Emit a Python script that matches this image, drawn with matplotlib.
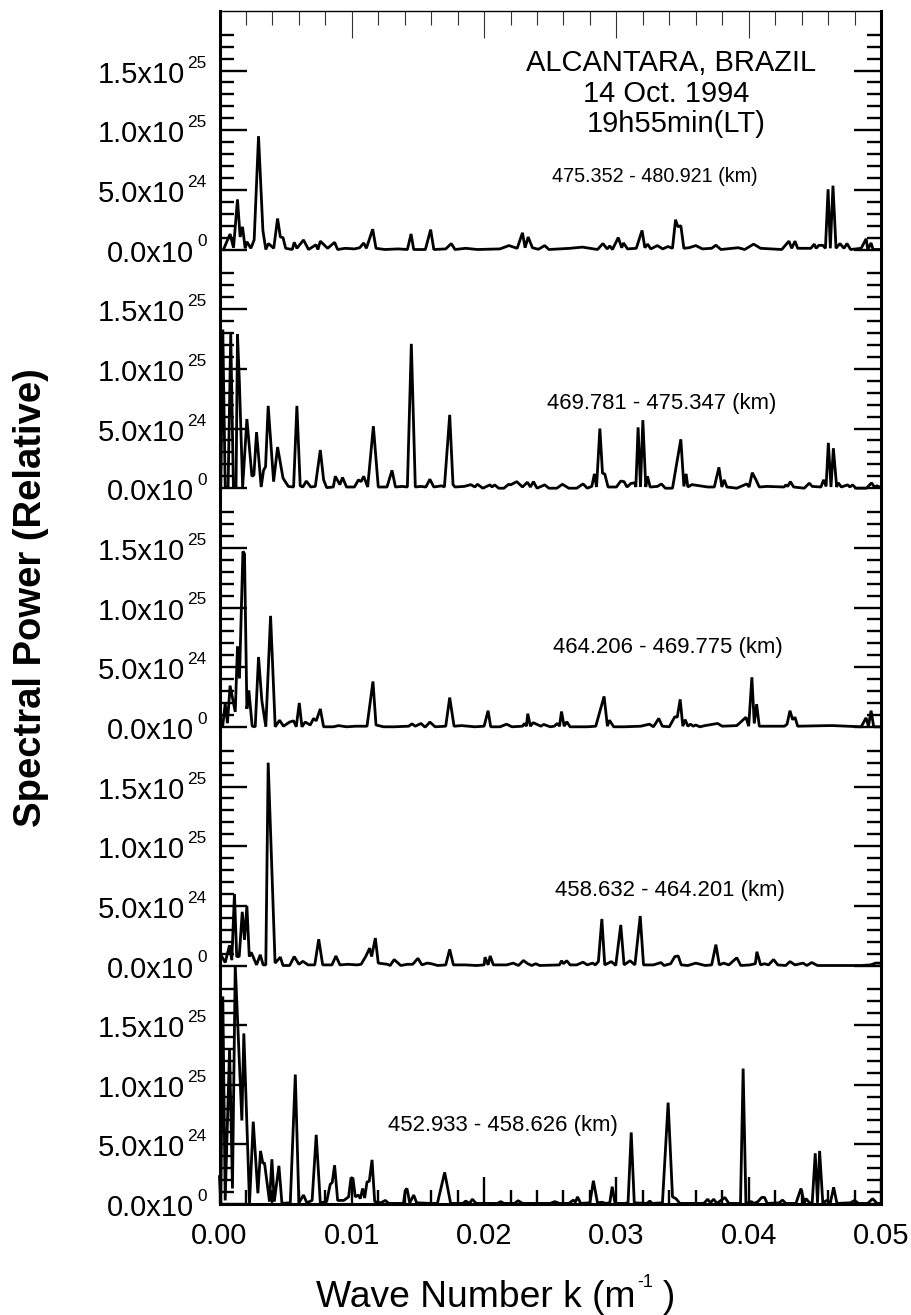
import numpy as np
import matplotlib
matplotlib.use("Agg")
import matplotlib.pyplot as plt

plt.rcParams['font.family'] = ['Liberation Sans', 'DejaVu Sans']

W, H = 911, 1315

# (wave number in 1/m, spectral power in units of 1e24)
panel1 = [(.0003,0),(.0008,1.3),(.00106,.15),(.00136,4.2),(.00156,1.05),(.00174,1.9),(.00194,.1),(.00207,.65),(.00237,.1),(.00262,.8),
 (.00295,9.5),(.00328,1.6),(.0035,0),(.0037,.5),(.0041,.1),(.00439,2.6),(.0046,1.05),(.0048,1.0),(.005,.1),(.0055,0),(.00565,.6),(.00585,.1),
 (.00635,.8),(.00673,0),(.00729,.4),(.00744,0),(.00762,.7),(.00817,.1),(.0087,.6),(.00893,0),(.0095,.1),(.0102,.05),(.0106,.15),(.0109,.55),(.0111,.1),
 (.01158,1.7),(.01183,.1),(.0125,0),(.0135,.05),(.0142,0),(.01448,1.3),(.01468,0),(.01556,0),(.01596,1.67),(.0162,0),(.0171,.05),(.01752,.5),(.0178,0),
 (.0186,.1),(.0195,0),(.0212,.05),(.02188,.33),(.0225,.1),(.0229,1.4),(.0231,.15),(.02333,1.05),(.02365,.15),(.0241,.02),(.02458,.33),(.0249,0),
 (.0265,.1),(.02743,.2),(.02857,0),(.02898,.5),(.0293,.05),(.0295,.3),(.0297,0),(.03014,1.0),(.0304,.15),(.03054,.55),(.03084,.05),(.0315,.1),
 (.03194,1.6),(.03215,.15),(.03236,.45),(.0326,.05),(.0331,.33),(.0335,.05),(.0339,.25),(.03424,.1),(.03447,2.5),(.03465,1.9),(.03487,2.0),(.0351,.1),
 (.0355,.15),(.036,.33),(.0365,.05),(.0372,.1),(.03752,.36),(.0379,0),(.0392,.15),(.0397,0),(.04037,.45),(.0409,.1),(.0425,0),(.04304,.7),(.04325,.1),
 (.0435,.7),(.0437,.1),(.0447,.1),(.04495,.45),(.0451,.1),(.0453,.35),(.0456,.35),(.0458,.1),(.046,5.05),(.04617,.1),(.04637,5.35),(.0466,.1),(.0469,.5),
 (.0472,.1),(.04743,.5),(.0477,0),(.0485,.1),(.04888,.9),(.049,0),(.04925,.55),(.0494,0),(.05,0)]

panel2 = [(.0001,0),(.00025,13.3),(.00043,.1),(.00065,.1),(.00085,13.0),(.00105,.1),(.00125,.1),(.00136,12.9),(.0015,9.0),(.00175,.1),
 (.00207,5.8),(.00245,1.0),(.0026,1.1),(.0028,4.7),(.00315,.1),(.00333,1.5),(.00348,1.8),(.00368,6.9),(.00409,.55),(.00439,3.45),(.0048,.85),(.0052,.15),(.0056,.1),
 (.00585,6.9),(.0061,.2),(.0063,.1),(.00656,.6),(.0069,.1),(.00724,.15),(.00762,3.2),(.00787,.7),(.0081,.05),(.0086,.1),(.00875,1.0),(.0091,.3),(.0093,.9),(.0096,.1),
 (.0102,.1),(.0105,.7),(.0107,.55),(.0109,1.0),(.0112,.1),(.01163,5.2),(.012,.1),(.01266,.1),(.01304,1.5),(.0133,.1),(.0138,.15),(.0142,.1),(.0145,12.1),(.0148,.1),
 (.0152,.15),(.0156,.1),(.0159,.75),(.0162,.1),(.0168,.2),(.017,.1),(.0174,6.15),(.01765,.3),(.0178,.1),(.0185,.15),(.019,.3),(.0193,.1),(.0195,.33),(.0199,0),
 (.02045,.28),(.0206,.1),(.0208,.28),(.0211,0),(.0215,0),(.02186,.33),(.022,.28),(.02247,.55),(.0229,.1),(.02327,.5),(.0235,.1),(.02373,.55),(.024,0),(.02458,.28),
 (.0249,0),(.0255,0),(.02592,.33),(.0264,0),(.027,0),(.02748,.36),(.0278,0),(.02814,.15),(.02834,1.2),(.0285,.1),(.02875,5.0),(.02895,1.25),(.02912,1.2),(.02937,.1),
 (.03,.1),(.03033,.6),(.03058,.55),(.0308,.1),(.0311,.4),(.0314,.45),(.03147,.1),(.03164,5.1),(.03182,.1),(.032,5.7),(.03222,.1),(.03235,1.0),(.03255,.1),(.0331,.15),
 (.0334,.36),(.0337,0),(.03424,0),(.03487,4.1),(.0351,.15),(.03527,1.2),(.0354,.1),(.0357,.3),(.0369,.1),(.0374,.1),(.03775,1.75),(.03797,.1),(.03815,.7),(.03835,.1),
 (.0391,0),(.03986,.36),(.04003,.1),(.04027,1.3),(.04055,.7),(.0408,.1),(.0414,.15),(.04268,.1),(.0428,.28),(.04295,.15),(.04315,.55),(.0434,.1),(.0442,0),(.04458,.42),
 (.0448,.15),(.04546,.1),(.04566,.7),(.04585,.15),(.04602,3.8),(.04622,.1),(.0464,3.35),(.04665,.1),(.04677,.45),(.047,.1),(.04748,.28),(.04765,.1),(.04785,.28),(.0481,0),
 (.0489,0),(.04929,.45),(.0495,.1),(.0497,.2),(.05,.05)]

panel3 = [(.00025,.15),(.00043,1.95),(.0006,.3),(.0008,3.45),(.00119,1.25),(.00136,6.75),(.00151,4.05),(.00177,14.7),(.00189,14.5),(.00207,1.5),(.00222,3.05),(.00247,.05),
 (.0027,0),(.00295,5.85),(.0032,2.2),(.0035,0),(.00386,9.3),(.00421,0),(.00454,.55),(.00484,.05),(.0053,.4),(.0056,.5),(.0058,0),(.00603,2.0),(.00623,0),(.00648,.4),(.00686,.15),
 (.00711,.7),(.00731,.5),(.00762,1.5),(.00787,0),(.0086,0),(.009,.1),(.0096,0),(.0103,.05),(.01115,.05),(.0116,3.8),(.01183,.15),(.0124,0),(.0132,0),(.0143,.05),(.01455,.25),(.0148,.05),
 (.01523,.28),(.0155,0),(.01558,0),(.0159,.4),(.0163,0),(.0171,.05),(.0174,2.45),(.01773,.05),(.0183,.1),(.0193,0),(.02,.05),(.0203,1.35),(.0205,0),(.0212,0),(.0217,.22),(.0221,0),
 (.0229,.05),(.02305,.28),(.0232,.05),(.0233,1.1),(.0235,.05),(.0237,.35),(.0243,.05),(.0245,.2),(.025,0),(.0253,.05),(.02554,.28),(.0257,.05),(.02585,1.28),(.02605,.05),(.02625,.42),(.0265,0),
 (.0278,0),(.02844,.05),(.02907,2.55),(.02932,.05),(.02947,.55),(.0298,0),(.03058,0),(.03184,.05),(.0325,.22),(.0328,0),(.0332,.7),(.03347,.05),(.034,0),(.03442,.85),(.0346,.8),
 (.03482,2.3),(.03502,.05),(.0352,.6),(.0354,.05),(.0356,.22),(.0358,.05),(.036,.15),(.0363,0),(.0367,.1),(.03765,.28),(.038,.05),(.0391,.1),(.03979,.8),(.04,.05),(.04024,4.15),(.04042,.28),
 (.0406,1.9),(.0408,.05),(.0427,.05),(.0429,.22),(.04312,1.35),(.04332,.6),(.0435,.8),(.0437,.05),(.046,.1),(.0464,.1),(.0485,0),(.04887,.75),(.04905,.05),(.04925,1.35),(.04945,0),(.05,0)]

panel4 = [(.0001,.9),(.00043,.25),(.00076,1.7),(.00093,.45),(.00113,6.0),(.0013,.75),(.00149,.75),(.00172,4.5),(.00189,2.15),(.00207,5.0),(.00225,.75),(.0024,1.1),(.0028,.05),(.00308,.9),
 (.0033,.05),(.0035,.05),(.00368,17.0),(.0042,.2),(.0046,.7),(.0048,0),(.0053,0),(.00565,.75),(.006,.1),(.0063,.35),(.0067,.05),(.0072,.05),(.0075,2.2),(.0078,.05),(.0085,.05),(.0088,.8),(.0091,.05),
 (.0097,.1),(.0104,.05),(.0107,.1),(.01105,.75),(.01135,1.45),(.0115,.75),(.01178,2.3),(.012,.2),(.0127,.1),(.0129,0),(.0132,.5),(.0137,0),(.0142,.1),(.0146,.1),(.015,.6),(.0153,.05),(.0157,.2),(.016,.15),
 (.0165,0),(.0171,.05),(.0174,1.35),(.01768,.05),(.0186,.05),(.0194,0),(.02,.05),(.02007,.7),(.0203,.05),(.02046,.8),(.0207,.05),(.0217,.05),(.0222,.2),(.0226,0),(.02297,.42),(.0233,.15),(.0236,0),(.0239,.15),(.0242,0),
 (.0257,.05),(.02585,.4),(.026,.15),(.02625,.4),(.0265,.05),(.027,.05),(.02748,.28),(.0278,.05),(.0282,.2),(.0284,.05),(.02864,.33),(.0289,3.9),(.02912,.05),(.02962,.33),(.02995,0),(.03033,3.4),(.03058,.05),
 (.03103,.4),(.0314,.05),(.0318,4.15),(.03205,.05),(.0328,.05),(.03337,.25),(.0336,0),(.0341,.15),(.03442,.75),(.03467,.8),(.0349,.05),(.0354,0),(.036,.2),(.0367,0),(.0372,.05),(.03752,1.75),(.03778,.05),(.0381,.2),
 (.0385,.05),(.0391,.65),(.0394,0),(.0401,.05),(.0405,.15),(.04062,1.15),(.0409,.05),(.0412,.15),(.0415,.05),(.04188,.5),(.0422,.05),(.0428,0),(.04312,.33),(.0435,.05),(.0441,.2),(.0444,0),(.04476,.25),(.0452,0),
 (.0485,0),(.0492,.05),(.0496,.2),(.0499,.2),(.05,.2)]

panel5 = [(.0,2.3),(.0001,.1),(.00025,17.4),(.00043,.3),(.00076,13.0),(.00098,1.3),(.00119,20.0),(.00169,7.0),(.00184,14.3),(.00227,.05),(.00255,6.9),(.0029,.9),(.0031,4.45),(.00328,3.4),(.0034,3.45),(.00378,.2),
 (.00396,3.75),(.00414,.2),(.00449,3.2),(.00472,.05),(.00535,.1),(.00573,10.85),(.006,.1),(.00635,.75),(.0066,.1),(.007,.3),(.00731,5.8),(.00762,.1),(.0081,.2),(.00837,1.65),(.00852,1.8),(.0087,3.25),
 (.00893,.3),(.0094,.3),(.00976,.6),(.00994,2.2),(.01009,2.15),(.01026,.6),(.0105,.75),(.01064,.45),(.01082,1.3),(.01097,.5),(.01115,1.85),(.01132,1.9),(.01153,3.7),(.01173,.2),(.0122,.1),(.01253,.3),(.0128,.05),
 (.0139,.05),(.01405,1.15),(.01417,1.3),(.01438,.1),(.01468,.75),(.0149,.1),(.016,.05),(.01647,.05),(.01702,2.65),(.01747,.05),(.0184,.05),(.01861,.25),(.0189,.05),(.01911,.4),(.0194,.05),(.021,.05),(.02126,.2),
 (.0215,.05),(.0223,.05),(.02257,.28),(.0229,.05),(.025,.05),(.02534,.2),(.0257,.05),(.0264,.05),(.02675,.33),(.0269,.15),(.02706,.6),(.0273,.05),(.028,.1),(.02826,1.95),(.02857,.1),(.0289,.15),(.0292,.05),
 (.0295,.1),(.02968,1.45),(.0299,.05),(.0306,.05),(.03088,.1),(.03112,6.0),(.03135,.1),(.0323,.05),(.03253,.25),(.0327,.05),(.03348,.1),(.03391,8.5),(.03424,.6),(.0345,.45),(.0348,.05),(.0366,.05),(.0369,.4),
 (.0371,.1),(.03735,.4),(.0376,.05),(.0382,.55),(.0385,.05),(.03938,.05),(.03958,11.35),(.03979,.05),(.0402,.2),(.0404,.05),(.0407,.2),(.04098,.55),(.0412,.55),(.0414,.05),(.0423,.1),(.04256,.33),(.0428,.05),(.04357,.05),
 (.04395,1.3),(.0442,.1),(.04433,.45),(.0446,.1),(.0448,.1),(.04503,4.25),(.0452,.1),(.04536,4.45),(.0456,.1),(.0459,.3),(.04617,.1),(.04642,1.4),(.04667,.05),(.0477,.1),(.048,.3),(.0483,.05),(.049,.05),(.04937,.45),(.0497,.05),(.05,.05)]

panels = [panel1, panel2, panel3, panel4, panel5]
y_major = [0, 5e24, 1e25, 1.5e25]
y_minor = [v * 1e24 for v in range(1, 19) if v % 5]
y_base_labels = ['0.0x10', '5.0x10', '1.0x10', '1.5x10']
y_exponents = ['0', '24', '25', '25']
x_major = [0.0, 0.01, 0.02, 0.03, 0.04, 0.05]
x_minor = [v * 0.002 for v in range(1, 25) if v % 5]
x_labels = ['0.00', '0.01', '0.02', '0.03', '0.04', '0.05']

range_labels = ['475.352 - 480.921 (km)', '469.781 - 475.347 (km)', '464.206 - 469.775 (km)',
                '458.632 - 464.201 (km)', '452.933 - 458.626 (km)']
range_sizes = [14.2, 15.9, 15.9, 15.9, 15.9]
range_pos = [(552, 181.5), (547, 409), (553, 653), (555, 896), (388, 1131.5)]
title_lines = [('ALCANTARA, BRAZIL', 671, 71), ('14 Oct. 1994', 666, 102), ('19h55min(LT)', 676, 132)]

fig = plt.figure(figsize=(W / 100, H / 100), dpi=100)

left, right = 219.5, 881.0
bases = [249.5, 488.2, 726.8, 965.5, 1204.0]
ph = 238.6

for i, (data, base) in enumerate(zip(panels, bases)):
    ax = fig.add_axes([left / W, 1 - base / H, (right - left) / W, ph / H])
    ax.patch.set_alpha(0)
    k, p = zip(*data)
    ax.plot(k, np.array(p) * 1e24, color='k', lw=2.0, clip_on=False, solid_joinstyle='bevel', zorder=3)
    ax.set_xlim(0, 0.05)
    ax.set_ylim(0, 2e25)
    ax.spines['left'].set_linewidth(2.2)
    ax.spines['right'].set_linewidth(2.2)
    ax.spines['top'].set_visible(i == 0)
    ax.spines['bottom'].set_visible(i == 4)
    ax.spines['top'].set_linewidth(1.0)
    ax.spines['bottom'].set_linewidth(2.2)

    ax.set_yticks(y_major)
    ax.set_yticks(y_minor, minor=True)
    ax.set_yticklabels([])
    ax.tick_params(axis='y', which='major', direction='in', length=19.5, width=1.7, left=True, right=True)
    ax.tick_params(axis='y', which='minor', direction='in', length=10, width=1.7, left=True, right=True)

    ax.set_xticks(x_major)
    ax.set_xticks(x_minor, minor=True)
    if i == 0:
        ax.tick_params(axis='x', which='major', direction='in', length=19.5, width=0.8, color='#333333', top=True, bottom=False, labelbottom=False)
        ax.tick_params(axis='x', which='minor', direction='in', length=10, width=0.8, color='#333333', top=True, bottom=False)
    elif i == 4:
        ax.tick_params(axis='x', which='major', direction='in', length=19.5, width=1.7, top=False, bottom=True, pad=13, labelsize=21)
        ax.tick_params(axis='x', which='minor', direction='in', length=10, width=1.7, top=False, bottom=True)
        ax.set_xticklabels(x_labels)
    else:
        ax.tick_params(axis='x', which='both', top=False, bottom=False, labelbottom=False)

    tr = ax.get_yaxis_transform()
    for val, lab, ex in zip(y_major, y_base_labels, y_exponents):
        ex_w = 10 if len(ex) == 1 else 19.5
        ax.annotate(ex, xy=(0, val), xycoords=tr, xytext=(-13, 3), textcoords='offset pixels',
                    ha='right', va='baseline', fontsize=12.4)
        ax.annotate(lab, xy=(0, val), xycoords=tr, xytext=(-13 - ex_w - 2, -12), textcoords='offset pixels',
                    ha='right', va='baseline', fontsize=21)

for (txt, x, y) in title_lines:
    fig.text(x / W, 1 - y / H, txt, ha='center', va='baseline', fontsize=21)
for txt, sz, (x, y) in zip(range_labels, range_sizes, range_pos):
    fig.text(x / W, 1 - y / H, txt, ha='left', va='baseline', fontsize=sz)

fig.text(31 / W, 1 - 598 / H, 'Spectral Power (Relative)', rotation=90, ha='center', va='center',
         fontsize=27.5, fontweight='bold')
fig.text(316 / W, 1 - 1307 / H, 'Wave Number k (m', ha='left', va='baseline', fontsize=26.8)
fig.text(637 / W, 1 - 1287 / H, '-1', ha='left', va='baseline', fontsize=13)
fig.text(675 / W, 1 - 1307 / H, ')', ha='right', va='baseline', fontsize=26.8)

fig.savefig('out.png', dpi=100)
